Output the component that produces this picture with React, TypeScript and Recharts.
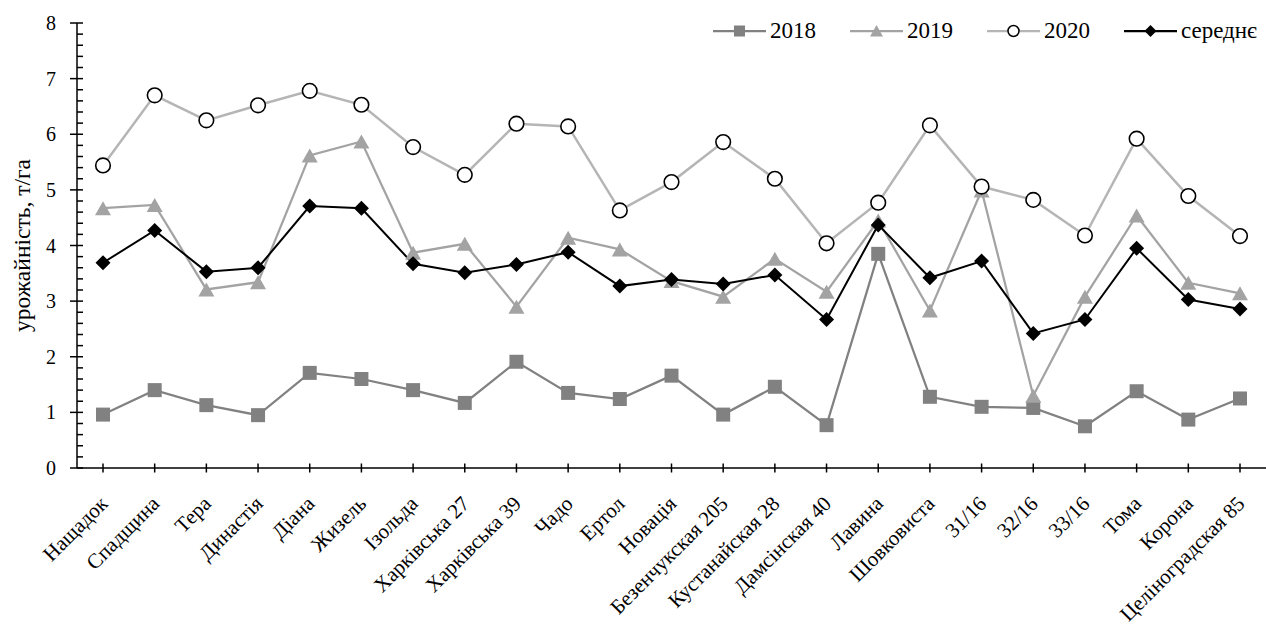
import React from 'react';
import { LineChart, Line, XAxis, YAxis, Legend } from 'recharts';

const categories = [
  'Нащадок', 'Спадщина', 'Тера', 'Династія', 'Діана', 'Жизель', 'Ізольда',
  'Харківська 27', 'Харківська 39', 'Чадо', 'Ертол', 'Новація',
  'Безенчукская 205', 'Кустанайская 28', 'Дамсінская 40', 'Лавина',
  'Шовковиста', '31/16', '32/16', '33/16', 'Тома', 'Корона', 'Целіноградская 85',
];
const y2018 = [0.96, 1.4, 1.13, 0.95, 1.71, 1.6, 1.4, 1.17, 1.91, 1.35, 1.24, 1.66, 0.96, 1.46, 0.77, 3.85, 1.28, 1.1, 1.08, 0.75, 1.38, 0.87, 1.25];
const y2019 = [4.67, 4.73, 3.21, 3.34, 5.62, 5.87, 3.87, 4.03, 2.9, 4.14, 3.93, 3.36, 3.08, 3.76, 3.17, 4.45, 2.83, 4.99, 1.3, 3.08, 4.54, 3.33, 3.14];
const y2020 = [5.44, 6.7, 6.25, 6.52, 6.78, 6.53, 5.77, 5.27, 6.19, 6.14, 4.63, 5.14, 5.86, 5.2, 4.04, 4.77, 6.16, 5.06, 4.82, 4.18, 5.92, 4.89, 4.17];
const yMean = [3.69, 4.27, 3.53, 3.6, 4.71, 4.67, 3.67, 3.51, 3.66, 3.88, 3.27, 3.39, 3.31, 3.47, 2.67, 4.37, 3.42, 3.72, 2.42, 2.67, 3.95, 3.03, 2.86];
const seriesNames = ['2018', '2019', '2020', 'середнє'];
const yMajorTicks = [0, 1, 2, 3, 4, 5, 6, 7, 8];
const yMinorSteps = [0, 0.2, 0.4, 0.6, 0.8];
const yTitle = 'урожайність, т/га';

const C2018 = '#818181';
const C2019 = '#a3a3a3';
const C2020 = '#b5b5b5';
const CMEAN = '#000000';
const FONT = '"Liberation Serif", "Times New Roman", serif';

const yTicks = yMajorTicks
  .flatMap((v) => (v < 8 ? yMinorSteps.map((s) => Math.round((v + s) * 10) / 10) : [v]));

const data = categories.map((name, i) => ({
  name,
  s2018: y2018[i],
  s2019: y2019[i],
  s2020: y2020[i],
  mean: yMean[i],
}));

const squareDot = (size: number, color: string) => (p: any) => {
  const { cx, cy, index } = p;
  if (cx == null || cy == null) return <g key={`sq${index}`} />;
  return <rect key={`sq${index}`} x={cx - size / 2} y={cy - size / 2} width={size} height={size} fill={color} />;
};
const triDot = (w: number, h: number, color: string) => (p: any) => {
  const { cx, cy, index } = p;
  if (cx == null || cy == null) return <g key={`tr${index}`} />;
  return (
    <polygon
      key={`tr${index}`}
      points={`${cx},${cy - h / 2} ${cx + w / 2},${cy + h / 2} ${cx - w / 2},${cy + h / 2}`}
      fill={color}
    />
  );
};
const circDot = (r: number) => (p: any) => {
  const { cx, cy, index } = p;
  if (cx == null || cy == null) return <g key={`ci${index}`} />;
  return <circle key={`ci${index}`} cx={cx} cy={cy} r={r} fill="#fff" stroke="#000" strokeWidth={1.6} />;
};
const diaDot = (h: number, color: string) => (p: any) => {
  const { cx, cy, index } = p;
  if (cx == null || cy == null) return <g key={`di${index}`} />;
  return (
    <polygon
      key={`di${index}`}
      points={`${cx},${cy - h} ${cx + h},${cy} ${cx},${cy + h} ${cx - h},${cy}`}
      fill={color}
    />
  );
};

const YTick = (props: any) => {
  const { x, y, payload } = props;
  const v = payload.value;
  const major = Math.abs(v - Math.round(v)) < 1e-6;
  if (major) {
    return (
      <g>
        <line x1={x - 7} x2={x + 6} y1={y} y2={y} stroke="#000" strokeWidth={1.5} />
        <text x={x - 21} y={y} dy="0.35em" textAnchor="end" fontSize={20} fontFamily={FONT} fill="#000">
          {v}
        </text>
      </g>
    );
  }
  return <line x1={x} x2={x + 6} y1={y} y2={y} stroke="#000" strokeWidth={1.5} />;
};

const XTick = (props: any) => {
  const { x, y, payload } = props;
  return (
    <g>
      <line x1={x} x2={x} y1={y - 4.5} y2={y + 4.5} stroke="#000" strokeWidth={1.5} />
      <text
        transform={`translate(${x + 6},${y + 37}) rotate(-45)`}
        textAnchor="end"
        fontSize={21}
        fontFamily={FONT}
        fill="#000"
      >
        {payload.value}
      </text>
    </g>
  );
};

const YTitle = (props: any) => {
  const vb = props.viewBox || { x: 0, y: 23, width: 77, height: 445 };
  const cy = vb.y + vb.height / 2;
  return (
    <text
      transform={`translate(30,${cy}) rotate(-90)`}
      textAnchor="middle"
      fontSize={23.5}
      fontFamily={FONT}
      fill="#000"
    >
      {yTitle}
    </text>
  );
};

const legendMarkers = [
  (c: number) => <rect x={c - 5.5} y={4.5} width={11} height={11} fill={C2018} />,
  (c: number) => <polygon points={`${c},4 ${c + 6.5},15.5 ${c - 6.5},15.5`} fill={C2019} />,
  (c: number) => <circle cx={c} cy={10} r={5.5} fill="#fff" stroke="#000" strokeWidth={1.5} />,
  (c: number) => <polygon points={`${c},4 ${c + 6},10 ${c},16 ${c - 6},10`} fill={CMEAN} />,
];
const legendColors = [C2018, C2019, C2020, CMEAN];

const renderLegend = () => (
  <div style={{ display: 'flex', alignItems: 'center', fontFamily: FONT, fontSize: 23, color: '#000', whiteSpace: 'nowrap' }}>
    {seriesNames.map((name, i) => (
      <div key={name} style={{ display: 'flex', alignItems: 'center', width: 137 }}>
        <svg width={53} height={20} style={{ display: 'block' }}>
          <line x1={0} x2={53} y1={10} y2={10} stroke={legendColors[i]} strokeWidth={2.25} />
          {legendMarkers[i](26.5)}
        </svg>
        <span style={{ marginLeft: 4, lineHeight: '24px' }}>{name}</span>
      </div>
    ))}
  </div>
);

export default function App() {
  return (
    <div style={{ position: 'absolute', left: 0, top: 0, width: 1266, height: 637, background: '#fff' }}>
      <LineChart width={1266} height={637} data={data} margin={{ top: 23, right: 0, bottom: 0, left: 0 }}>
        <XAxis
          dataKey="name"
          interval={0}
          height={169}
          padding={{ left: 26, right: 26 }}
          tickSize={0}
          tickMargin={0}
          tickLine={false}
          axisLine={{ stroke: '#000', strokeWidth: 1.5 }}
          tick={<XTick />}
        />
        <YAxis
          width={77}
          domain={[0, 8]}
          ticks={yTicks}
          interval={0}
          allowDecimals
          tickSize={0}
          tickMargin={0}
          tickLine={false}
          axisLine={{ stroke: '#000', strokeWidth: 1.5 }}
          tick={<YTick />}
          label={{ value: yTitle, content: <YTitle /> }}
        />
        <Legend
          layout="vertical"
          align="center"
          verticalAlign="middle"
          content={renderLegend}
          wrapperStyle={{ position: 'absolute', left: 713, top: 19, width: 553, height: 24 }}
        />
        <Line name={seriesNames[0]} dataKey="s2018" stroke={C2018} strokeWidth={2.25} dot={squareDot(14, C2018)} activeDot={false} isAnimationActive={false} />
        <Line name={seriesNames[1]} dataKey="s2019" stroke={C2019} strokeWidth={2.25} dot={triDot(16, 14, C2019)} activeDot={false} isAnimationActive={false} />
        <Line name={seriesNames[2]} dataKey="s2020" stroke={C2020} strokeWidth={2.5} dot={circDot(7.3)} activeDot={false} isAnimationActive={false} />
        <Line name={seriesNames[3]} dataKey="mean" stroke={CMEAN} strokeWidth={2} dot={diaDot(7.5, CMEAN)} activeDot={false} isAnimationActive={false} />
      </LineChart>
    </div>
  );
}
